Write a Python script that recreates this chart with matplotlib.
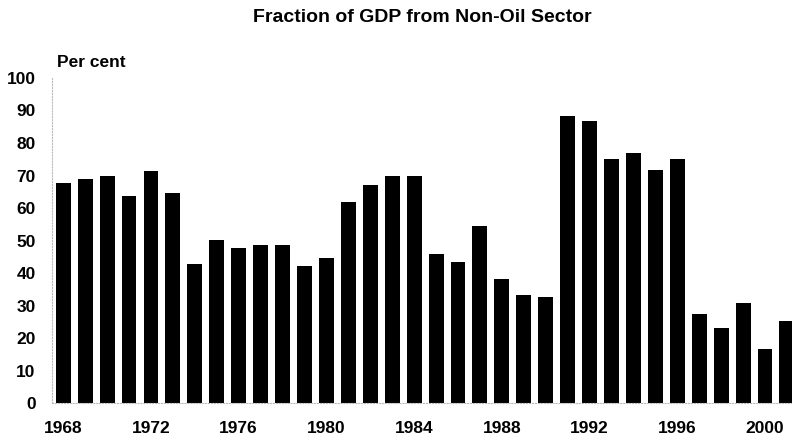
import matplotlib.pyplot as plt
import numpy as np

plt.rcParams['font.family'] = ['Liberation Sans', 'DejaVu Sans']

years = np.arange(1968, 2002)
non_oil_share = [67.8, 69.0, 69.8, 63.7, 71.3, 64.7, 42.7, 50.2, 47.8, 48.5,
                 48.5, 42.2, 44.5, 61.8, 67.1, 70.0, 69.8, 45.8, 43.5, 54.4,
                 38.2, 33.4, 32.6, 88.2, 86.8, 75.0, 76.8, 71.8, 75.0, 27.3,
                 23.2, 30.7, 16.8, 25.2]
label_years = [1968, 1972, 1976, 1980, 1984, 1988, 1992, 1996, 2000]
y_ticks = list(range(0, 101, 10))

fig = plt.figure(figsize=(7.92, 4.43), dpi=100)
ax = fig.add_axes([0.066, 0.09, 0.934, 0.734])

ax.bar(years, non_oil_share, width=0.68, color='black')

ax.set_xlim(1967.5, 2001.23)
ax.set_ylim(0, 100)
ax.set_xticks(label_years)
ax.set_xticklabels([str(y) for y in label_years], fontsize=12.5, fontweight='bold')
ax.set_yticks(y_ticks)
ax.set_yticklabels([str(v) for v in y_ticks], fontsize=12.5, fontweight='bold')
ax.tick_params(axis='x', length=0, pad=13)
ax.tick_params(axis='y', length=0, pad=12)

for side in ['top', 'right']:
    ax.spines[side].set_visible(False)
for side in ['left', 'bottom']:
    ax.spines[side].set_color('#bbbbbb')
    ax.spines[side].set_linestyle(':')
    ax.spines[side].set_linewidth(0.8)

ax.text(0.007, 1.025, 'Per cent', transform=ax.transAxes, fontsize=12.5,
        fontweight='bold', ha='left', va='bottom')
fig.text(0.533, 0.96, 'Fraction of GDP from Non-Oil Sector', fontsize=14,
         fontweight='bold', ha='center', va='center')

fig.savefig('out.png', dpi=100)
